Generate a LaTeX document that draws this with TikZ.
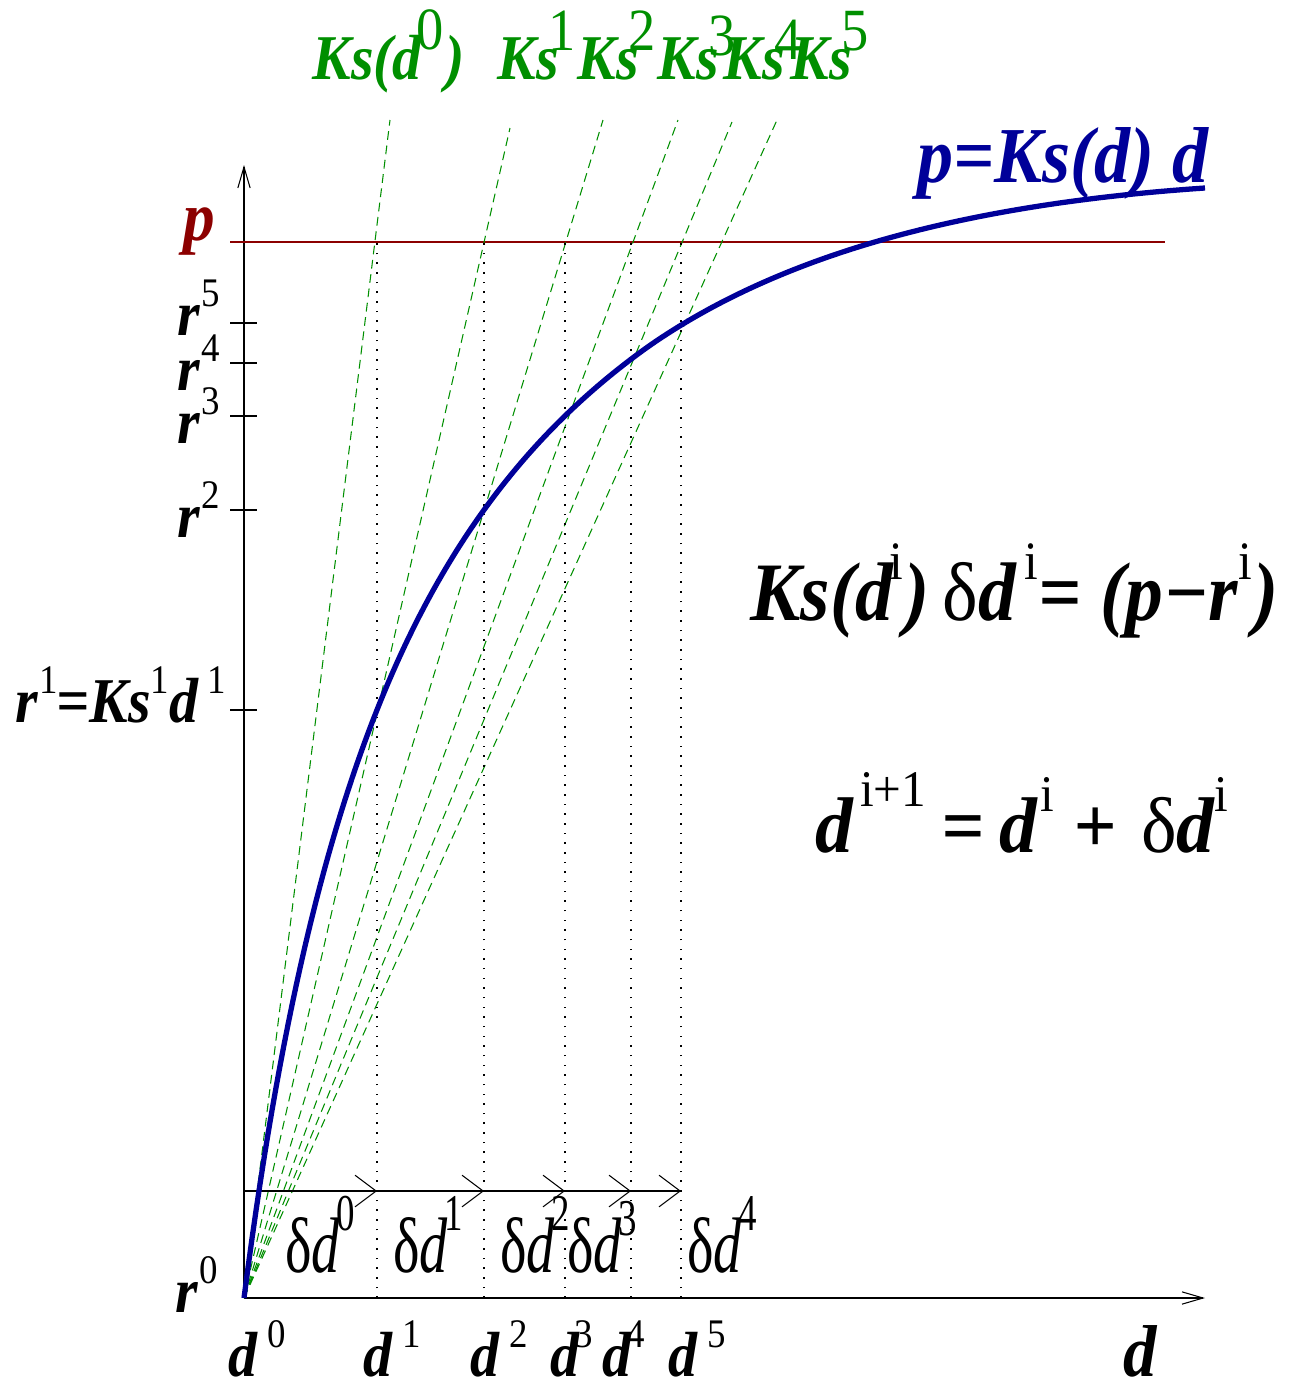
\documentclass[tikz,border=0pt]{standalone}
\usepackage{fontspec}
\setmainfont{Liberation Serif}
\usetikzlibrary{arrows.meta}
\definecolor{curveblue}{rgb}{0,0,0.6}
\definecolor{ksgreen}{rgb}{0,0.56,0}
\definecolor{pred}{rgb}{0.55,0,0}
% superscript: raise, size, text
\newcommand{\sups}[3]{\raisebox{#1}{\fontsize{#2}{#2}\selectfont\mdseries\upshape #3}}
\newcommand{\lbfont}[1]{\fontsize{#1}{#1}\selectfont\bfseries\itshape}
\newcommand{\updelta}{{\mdseries\upshape δ}}
\tikzset{
  axis/.style={line width=0.6pt, -{Straight Barb[length=12pt,width=7pt]}},
  steparrow/.style={line width=0.6pt, -{Straight Barb[length=12pt,width=18pt]}},
  curve/.style={curveblue, line width=3pt},
  ksline/.style={ksgreen, line width=0.6pt, dash pattern=on 5pt off 3.2pt},
  dropline/.style={black, line width=0.9pt, dash pattern=on 0.9pt off 4.6pt},
  tick/.style={line width=0.6pt},
  lbl/.style={inner sep=0pt, anchor=base west},
}
\begin{document}
\begin{tikzpicture}[x=0.02cm, y=-0.02cm,
  kslbl/.style={lbl, ksgreen, font=\lbfont{33pt}, yscale=1.1},
  rlbl/.style={lbl, font=\lbfont{33pt}, yscale=1.1},
  dlbl/.style={lbl, font=\lbfont{33pt}, yscale=1.1},
  deltalbl/.style={lbl, font=\fontsize{32pt}{32pt}\selectfont, yscale=1.4},
  bigeq/.style={lbl, font=\lbfont{43pt}, yscale=1.1},
]
\useasboundingbox (0,0) rectangle (1291,1384);

% axes and p level
\coordinate (O) at (244,1298);
\coordinate (xend) at (1205,1298);
\coordinate (yend) at (244,165);
\coordinate (P) at (244,242);
\coordinate (pl) at (230,242);
\coordinate (pr) at (1165,242);
\draw[axis] (O) -- (xend);
\draw[axis] (O) -- (yend);
\draw[pred, line width=0.6pt] (pl) -- (pr);

% d^i on the axis
\foreach \n/\x in {1/377,2/484,3/565,4/631,5/681}
  \coordinate (d\n) at (\x,1298);

% r^i ticks
\foreach \n/\y in {1/710,2/510,3/416,4/363,5/323} {
  \coordinate (t\n) at (230,\y);
  \coordinate (u\n) at (257,\y);
  \draw[tick] (t\n) -- (u\n);
}

% secant stiffness lines
\foreach \n/\x/\y in {0/390/120,1/510/128,2/603/120,3/678/120,4/732/122,5/777/120}
  \coordinate (k\n) at (\x,\y);
\foreach \n in {0,...,5}
  \draw[ksline] (O) -- (k\n);

% projections down to the axis
\foreach \n in {1,...,5}
  \draw[dropline] (d\n) -- (d\n |- P);

% increments
\coordinate (a0) at (244,1191);
\foreach \n in {1,...,5}
  \coordinate (a\n) at (d\n |- a0);
\foreach \i/\j in {0/1,1/2,2/3,3/4,4/5}
  \draw[steparrow] (a\i) -- (a\j);

% load-displacement curve
\draw[curve, line join=round] plot[domain=0:961, samples=240, variable=\t]
  ({244+\t}, {1298-(1365*(\t/(\t+175.7))-(\t>400)*(0.00331*abs(\t-400))*sqrt(abs(\t-400)))});

% labels
\node[kslbl] (ks0lbl) at (312,79) {Ks(d\kern-3pt\sups{15.5pt}{31pt}{0}\kern1pt)};
\node[kslbl] (ks1lbl) at (497,79) {Ks\kern-6pt\sups{15pt}{31pt}{1}};
\node[kslbl] (ks2lbl) at (577,79) {Ks\kern-6pt\sups{15pt}{31pt}{2}};
\node[kslbl] (ks3lbl) at (657,79) {Ks\kern-6pt\sups{12pt}{31pt}{3}};
\node[kslbl] (ks4lbl) at (723,79) {Ks\kern-6pt\sups{10pt}{31pt}{4}};
\node[kslbl] (ks5lbl) at (790,79) {Ks\kern-6pt\sups{15pt}{31pt}{5}};

\node[lbl, curveblue, font=\lbfont{41pt}, yscale=1.1] (curvelbl) at (917,182) {p=Ks(d) d};

\node[rlbl, pred, font=\lbfont{36pt}] (plbl) at (183,240) {p};
\node[rlbl] (r5lbl) at (177,335) {r\kern1pt\sups{15pt}{21pt}{5}};
\node[rlbl] (r4lbl) at (177,390) {r\kern1pt\sups{15pt}{21pt}{4}};
\node[rlbl] (r3lbl) at (177,443) {r\kern1pt\sups{15pt}{21pt}{3}};
\node[rlbl] (r2lbl) at (177,537) {r\kern1pt\sups{15pt}{21pt}{2}};
\node[rlbl] (r1lbl) at (15,722) {r\kern1pt\sups{15pt}{21pt}{1}\kern-1pt=Ks\sups{15pt}{21pt}{1}d\,\sups{15pt}{21pt}{1}};
\node[rlbl] (r0lbl) at (175,1312) {r\kern1pt\sups{15pt}{21pt}{0}};

\node[dlbl] (d0lbl) at (228,1376) {d\,\sups{15pt}{21pt}{0}};
\node[dlbl] (d1lbl) at (363,1376) {d\,\sups{15pt}{21pt}{1}};
\node[dlbl] (d2lbl) at (470,1376) {d\,\sups{15pt}{21pt}{2}};
\node[dlbl] (d3lbl) at (550,1376) {d\kern-3pt\sups{15pt}{21pt}{3}};
\node[dlbl] (d4lbl) at (602,1376) {d\kern-3pt\sups{15pt}{21pt}{4}};
\node[dlbl] (d5lbl) at (668,1376) {d\,\sups{15pt}{21pt}{5}};
\node[dlbl, font=\lbfont{38pt}] (dlbl) at (1123,1376) {d};

\node[deltalbl] (dd0lbl) at (285,1272) {δ\textit{d}\kern-2pt\sups{17pt}{21pt}{0}};
\node[deltalbl] (dd1lbl) at (393,1272) {δ\textit{d}\kern-2pt\sups{17pt}{21pt}{1}};
\node[deltalbl] (dd2lbl) at (500,1272) {δ\textit{d}\kern-2pt\sups{17pt}{21pt}{2}};
\node[deltalbl] (dd3lbl) at (567,1272) {δ\textit{d}\kern-2pt\sups{15pt}{21pt}{3}};
\node[deltalbl] (dd4lbl) at (687,1272) {δ\textit{d}\kern-2pt\sups{17pt}{21pt}{4}};

\node[bigeq] (eqone) at (750,620)
  {Ks(d\kern-2pt\sups{21pt}{28pt}{i}\kern1pt)\kern7pt\updelta d\kern5pt\sups{21pt}{28pt}{i}\kern0pt= (p−r\sups{21pt}{28pt}{i}\kern1pt)};
\node[bigeq, yscale=0.95] (eqtwo) at (815,852)
  {d\kern4pt\sups{25pt}{28pt}{i+1}\kern9pt=\kern8pt d\kern2pt\sups{22pt}{28pt}{i}\kern11pt+\kern14pt\updelta d\sups{22pt}{28pt}{i}};
\end{tikzpicture}
\end{document}
